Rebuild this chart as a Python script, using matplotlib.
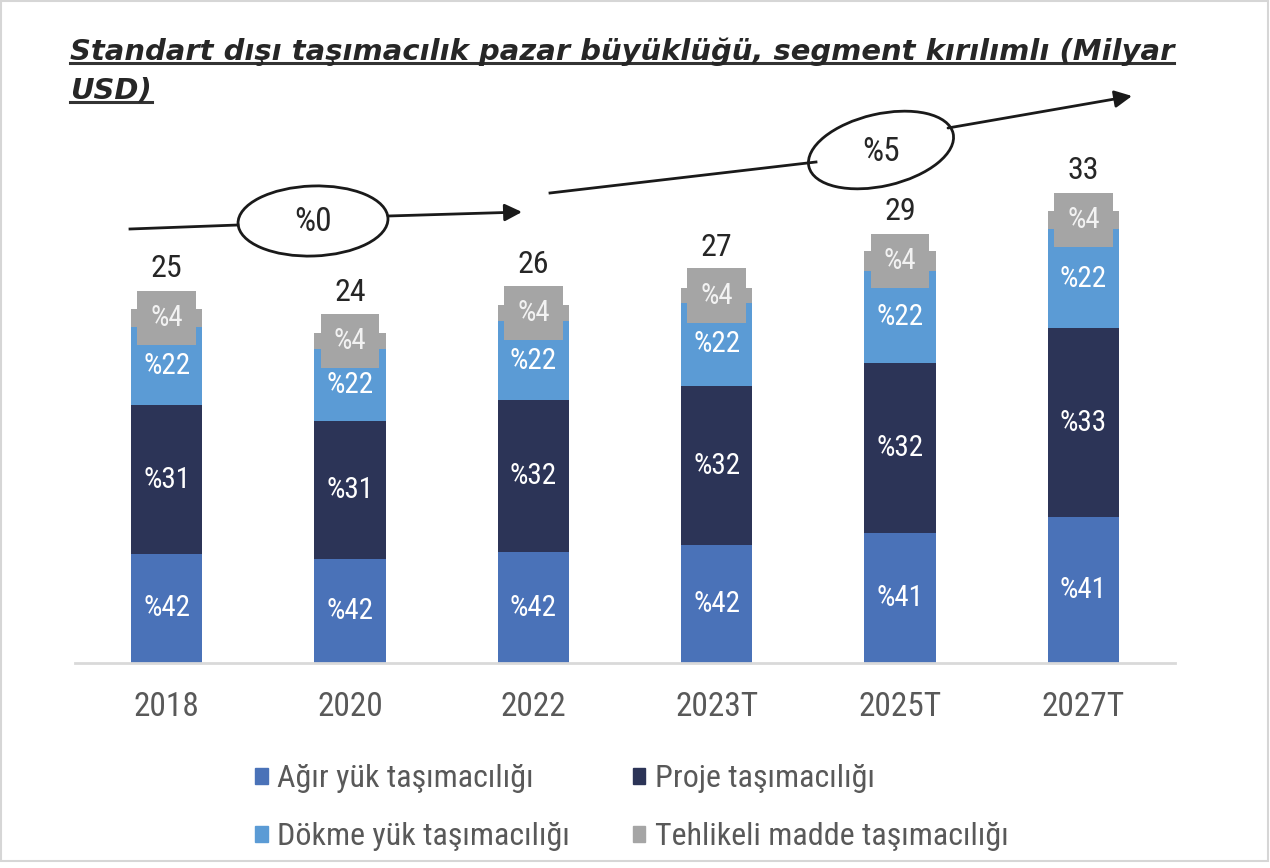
import matplotlib
matplotlib.use("Agg")
import matplotlib.pyplot as plt
from matplotlib import font_manager
from matplotlib.patches import Ellipse, Patch, Rectangle
from matplotlib.lines import Line2D

# data (segment heights in milyar USD)
years = ["2018", "2020", "2022", "2023T", "2025T", "2027T"]
totals = ["25", "24", "26", "27", "29", "33"]
agir = [7.8, 7.4, 7.9, 8.4, 9.3, 10.4]
proje = [10.6, 9.9, 10.9, 11.4, 12.1, 13.5]
dokme = [5.6, 5.1, 5.6, 5.9, 6.6, 7.1]
tehlikeli = [1.3, 1.2, 1.2, 1.1, 1.4, 1.3]
agir_lbl = ["%42", "%42", "%42", "%42", "%41", "%41"]
proje_lbl = ["%31", "%31", "%32", "%32", "%32", "%33"]
dokme_lbl = ["%22", "%22", "%22", "%22", "%22", "%22"]
tehlikeli_lbl = ["%4", "%4", "%4", "%4", "%4", "%4"]
series_names = ["Ağır yük taşımacılığı", "Proje taşımacılığı",
                "Dökme yük taşımacılığı", "Tehlikeli madde taşımacılığı"]
title_lines = ["Standart dışı taşımacılık pazar büyüklüğü, segment kırılımlı (Milyar",
               "USD)"]
cagr = ["%0", "%5"]

c_agir, c_proje, c_dokme, c_teh = "#4A72B8", "#2C3457", "#5B9BD5", "#A5A5A5"

installed = {f.name for f in font_manager.fontManager.ttflist}
body_font = "DejaVu Sans"
for cand in ["Liberation Sans Narrow", "Roboto Condensed", "Liberation Sans"]:
    if cand in installed:
        body_font = cand
        break
plt.rcParams["font.family"] = [body_font, "DejaVu Sans"]

W, H = 1270, 868
fig = plt.figure(figsize=(W / 100, H / 100), dpi=100)
fig.patch.set_facecolor("white")

# plot area in pixels: baseline y=663, x from 75 to 1175
ax = fig.add_axes([75 / W, (H - 663) / H, 1100 / W, (663 - 110) / H])
x = list(range(len(years)))
bw = 0.39
b1 = agir
b2 = [a + p for a, p in zip(agir, proje)]
b3 = [s + d for s, d in zip(b2, dokme)]
ax.bar(x, agir, bw, color=c_agir, zorder=2)
ax.bar(x, proje, bw, bottom=b1, color=c_proje, zorder=2)
ax.bar(x, dokme, bw, bottom=b2, color=c_dokme, zorder=2)
ax.bar(x, tehlikeli, bw, bottom=b3, color=c_teh, zorder=2)

seg_size = 21
for i in x:
    ax.text(i, agir[i] / 2, agir_lbl[i], ha="center", va="center",
            color="white", fontsize=seg_size, zorder=3)
    ax.text(i, b1[i] + proje[i] / 2, proje_lbl[i], ha="center", va="center",
            color="white", fontsize=seg_size, zorder=3)
    ax.text(i, b2[i] + dokme[i] / 2, dokme_lbl[i], ha="center", va="center",
            color="white", fontsize=seg_size, zorder=3)
    ax.text(i, b3[i] + tehlikeli[i] / 2, tehlikeli_lbl[i], ha="center", va="center",
            color="#F2F2F2", fontsize=seg_size, zorder=4,
            bbox=dict(boxstyle="square,pad=0.45", fc=c_teh, ec="none"))
    top = b3[i] + tehlikeli[i]
    ax.annotate(totals[i], (i, top), xytext=(0, 29), textcoords="offset points",
                ha="center", va="center", fontsize=23, color="#262626")

ax.set_xlim(-0.5, len(years) - 0.5)
ax.set_ylim(0, (663 - 110) / 14)
ax.set_xticks(x)
ax.set_xticklabels(years, fontsize=24, color="#595959")
ax.tick_params(axis="x", length=0, pad=20)
ax.set_yticks([])
for s in ["top", "right", "left"]:
    ax.spines[s].set_visible(False)
ax.spines["bottom"].set_color("#D9D9D9")
ax.spines["bottom"].set_linewidth(2)
ax.patch.set_alpha(0)

# legend, two rows of two
handles = [Patch(color=c_agir), Patch(color=c_dokme), Patch(color=c_proje), Patch(color=c_teh)]
labels = [series_names[0], series_names[2], series_names[1], series_names[3]]
fig.legend(handles, labels, ncol=2, loc="upper left",
           bbox_to_anchor=(255 / W, 1 - 764 / H), frameon=False,
           fontsize=23, labelcolor="#595959", handlelength=0.4, handleheight=0.4,
           handletextpad=0.3, columnspacing=1.95, labelspacing=0.92,
           borderpad=0, borderaxespad=0)

# overlay in pixel coordinates for the title and the growth arrows
ov = fig.add_axes([0, 0, 1, 1], zorder=5)
ov.set_xlim(0, W)
ov.set_ylim(H, 0)
ov.axis("off")

fig.canvas.draw()
rend = fig.canvas.get_renderer()
tsize = 26
tkw = dict(family="DejaVu Sans", weight="bold", style="italic", color="#262626",
           va="baseline")
t1 = ov.text(70, 60, title_lines[0], fontsize=tsize, **tkw)
w = t1.get_window_extent(rend).width
tsize = tsize * 1105 / w
t1.set_fontsize(tsize)
t2 = ov.text(70, 99, title_lines[1], fontsize=tsize, **tkw)
for t, yb in [(t1, 60), (t2, 99)]:
    bb = t.get_window_extent(rend)
    ov.add_line(Line2D([70, 70 + bb.width], [yb + 2.5, yb + 2.5], color="#333333", lw=2.2))

arrow_kw = dict(arrowstyle="-|>", color="#1A1A1A", lw=2, mutation_scale=26,
                shrinkA=0, shrinkB=0)
ov.plot([130, 238], [229, 225], color="#1A1A1A", lw=2)
ov.annotate("", xy=(522, 212), xytext=(388, 216), arrowprops=arrow_kw)
ov.add_patch(Ellipse((313, 221), 150, 70, angle=-2, fc="white", ec="#1A1A1A", lw=2))
ov.text(313, 222, cagr[0], ha="center", va="center", fontsize=24, color="#262626")

ov.plot([550, 816], [193, 162], color="#1A1A1A", lw=2)
ov.annotate("", xy=(1132, 96), xytext=(948, 128), arrowprops=arrow_kw)
ov.add_patch(Ellipse((881, 150), 148, 72, angle=-13, fc="white", ec="#1A1A1A", lw=2))
ov.text(881, 152, cagr[1], ha="center", va="center", fontsize=24, color="#262626")

ov.add_patch(Rectangle((1, 1), W - 3, H - 8, fill=False, ec="#D6D6D6", lw=1.5))

fig.savefig("out.png", dpi=100)
